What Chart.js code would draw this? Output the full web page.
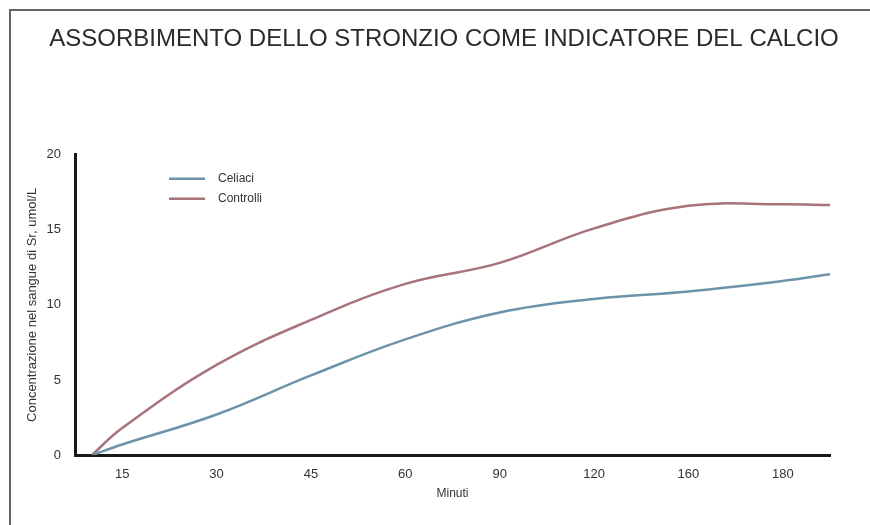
<!DOCTYPE html>
<html>
<head>
<meta charset="utf-8">
<script src="https://cdn.jsdelivr.net/npm/chart.js@4.4.1/dist/chart.umd.min.js"></script>
<style>
  html, body { margin: 0; padding: 0; background: #fff; }
  #wrap { position: relative; width: 870px; height: 525px; overflow: hidden; }
  #frame { position: absolute; left: 9px; top: 9px; right: -4px; bottom: -4px;
           border-left: 2px solid #666; border-top: 2px solid #666; }
  canvas { position: absolute; left: 0; top: 0; }
</style>
</head>
<body>
<div id="wrap">
  <div id="frame"></div>
  <canvas id="chart" width="870" height="525"></canvas>
</div>
<script>
// Data
const categories = ['15', '30', '45', '60', '90', '120', '160', '180'];
// x in category units: category i is centred at i + 0.5
const xPoints = [0.18, 0.5, 1.5, 2.5, 3.5, 4.5, 5.5, 6.5, 7.5, 8];
const celiaci = [0, 0.7, 2.7, 5.3, 7.7, 9.5, 10.4, 10.9, 11.6, 12.05];
const controlli = [0, 1.8, 6.0, 9.0, 11.4, 12.8, 15.1, 16.6, 16.7, 16.65];
const yTicks = [0, 5, 10, 15, 20];

const FONT = "'Liberation Sans', Arial, sans-serif";

function toPoints(values) {
    return values.map((v, i) => ({ x: xPoints[i], y: v }));
}

// Legend drawn inside the plot area, top-left
const innerLegend = {
    id: 'innerLegend',
    afterDatasetsDraw(chart) {
        const ctx = chart.ctx;
        const area = chart.chartArea;
        ctx.save();
        ctx.font = '12px ' + FONT;
        ctx.textBaseline = 'middle';
        chart.data.datasets.forEach((ds, i) => {
            const y = area.top + 24 + i * 20;
            ctx.strokeStyle = ds.borderColor;
            ctx.lineWidth = 2.5;
            ctx.beginPath();
            ctx.moveTo(area.left + 94, y);
            ctx.lineTo(area.left + 130, y);
            ctx.stroke();
            ctx.fillStyle = '#333';
            ctx.fillText(ds.label, area.left + 143, y);
        });
        ctx.restore();
    }
};

new Chart(document.getElementById('chart'), {
    type: 'line',
    data: {
        datasets: [
            {
                label: 'Celiaci',
                data: toPoints(celiaci),
                borderColor: '#6d93ab',
                borderWidth: 2.5,
                pointRadius: 0,
                tension: 0.4
            },
            {
                label: 'Controlli',
                data: toPoints(controlli),
                borderColor: '#a8737a',
                borderWidth: 2.5,
                pointRadius: 0,
                tension: 0.4
            }
        ]
    },
    options: {
        responsive: false,
        animation: false,
        layout: { padding: { left: 18, right: 0, top: 0, bottom: 0 } },
        plugins: {
            legend: { display: false },
            tooltip: { enabled: false },
            title: {
                display: true,
                text: 'ASSORBIMENTO DELLO STRONZIO COME INDICATORE DEL CALCIO',
                color: '#2a2a2a',
                font: { family: FONT, size: 24, weight: 'normal', lineHeight: 1.2 },
                padding: { top: 25, bottom: 101 }
            }
        },
        scales: {
            x: {
                type: 'linear',
                min: 0,
                max: 8,
                afterBuildTicks(scale) {
                    scale.ticks = categories.map((c, i) => ({ value: i + 0.5 }));
                },
                afterFit(scale) { scale.height = 70; },
                grid: { display: false, drawTicks: false },
                border: { display: true, color: '#1a1a1a', width: 3 },
                ticks: {
                    color: '#333',
                    font: { family: FONT, size: 13 },
                    padding: 12,
                    autoSkip: false,
                    maxRotation: 0,
                    callback: (v) => categories[Math.round(v - 0.5)]
                },
                title: {
                    display: true,
                    text: 'Minuti',
                    color: '#333',
                    font: { family: FONT, size: 12 },
                    padding: { top: 4, bottom: 24 }
                }
            },
            y: {
                min: 0,
                max: 20,
                afterBuildTicks(scale) {
                    scale.ticks = yTicks.map(v => ({ value: v }));
                },
                afterFit(scale) { scale.width = 57; },
                grid: { display: false, drawTicks: false },
                border: { display: true, color: '#1a1a1a', width: 3 },
                ticks: {
                    color: '#333',
                    font: { family: FONT, size: 13 },
                    padding: 14
                },
                title: {
                    display: true,
                    text: 'Concentrazione nel sangue di Sr, umol/L',
                    color: '#333',
                    font: { family: FONT, size: 13 },
                    padding: { top: 7, bottom: 4 }
                }
            },
            // empty right-hand margin so the title sits centred like the reference
            yRight: {
                position: 'right',
                display: true,
                afterFit(scale) { scale.width = 40; },
                grid: { display: false, drawTicks: false },
                border: { display: false },
                ticks: { display: false }
            }
        }
    },
    plugins: [innerLegend]
});
</script>
</body>
</html>
